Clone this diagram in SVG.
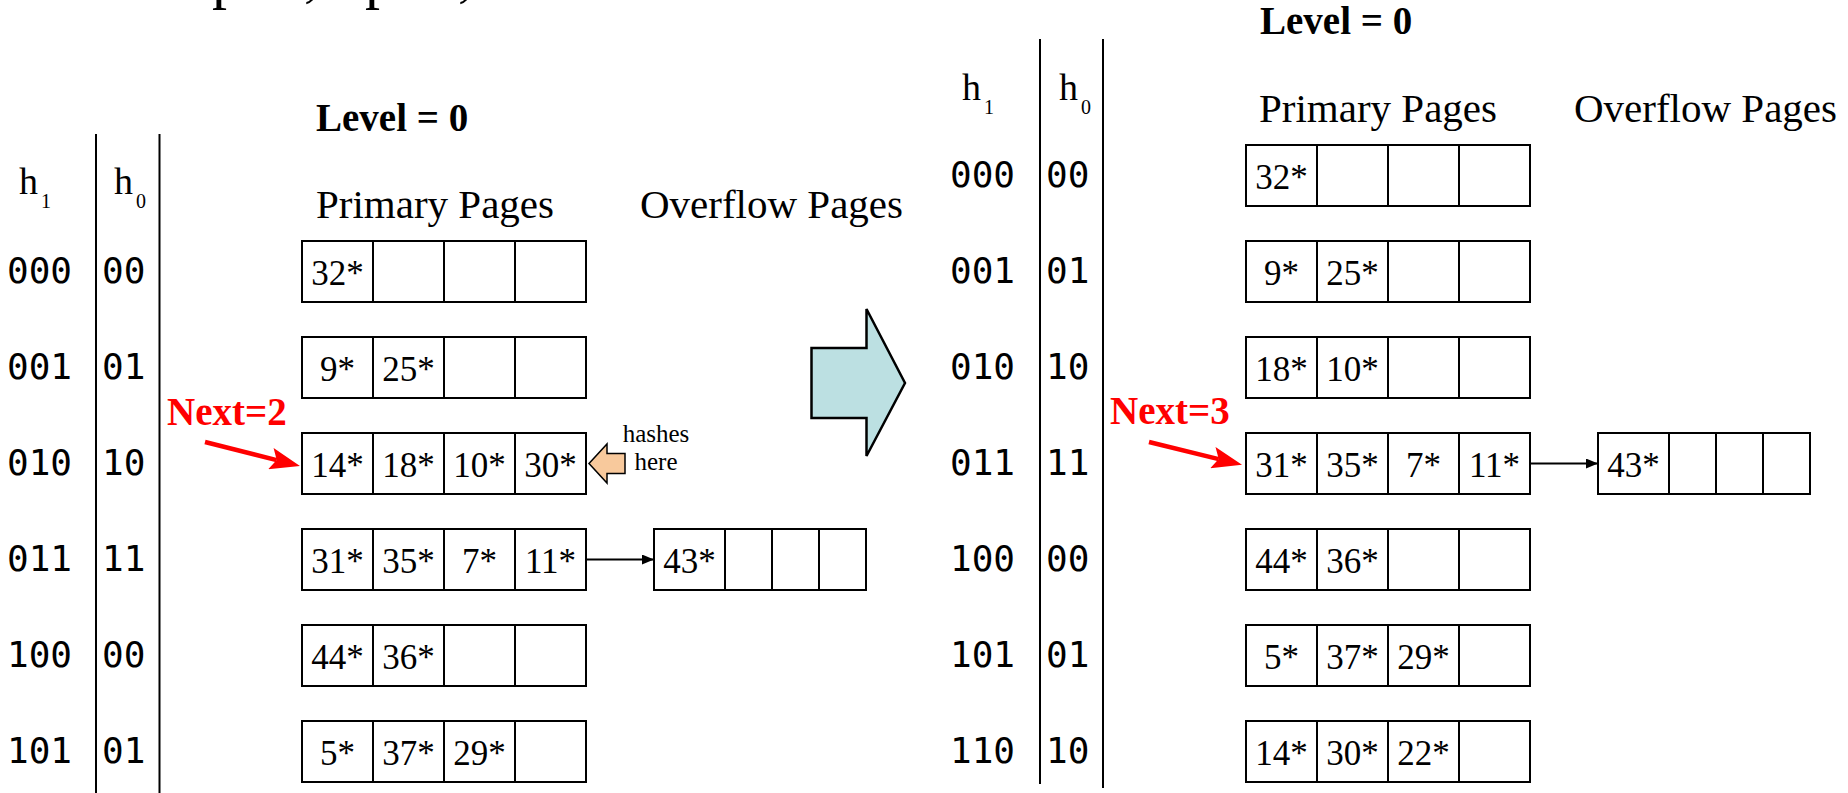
<svg xmlns="http://www.w3.org/2000/svg" width="1848" height="793" viewBox="0 0 1848 793">
<style>
.cell{fill:#fff;stroke:#000;stroke-width:2}
.val{font-family:"Liberation Serif",serif;font-size:35px;text-anchor:middle;fill:#000}
.bin{font-family:"DejaVu Sans Mono",monospace;font-size:36px;fill:#000}
.lbl{font-family:"Liberation Serif",serif;font-size:41px;fill:#000}
.lvl{font-family:"Liberation Serif",serif;font-size:39px;font-weight:bold;fill:#000}
.next{font-family:"Liberation Serif",serif;font-size:39px;font-weight:bold;fill:#ff0000}
.h{font-family:"Liberation Serif",serif;font-size:38px;fill:#000}
.sub{font-family:"Liberation Serif",serif;font-size:20px;fill:#000}
.small{font-family:"Liberation Serif",serif;font-size:25px;text-anchor:middle;fill:#000}
.vline{stroke:#000;stroke-width:2;fill:none}
.conn{stroke:#000;stroke-width:2;fill:none}
.redconn{stroke:#ff0000;stroke-width:4.5;fill:none}
</style>
<defs>
<marker id="blackHead" viewBox="0 0 12 10" markerWidth="12" markerHeight="10" refX="11" refY="5" orient="auto" markerUnits="userSpaceOnUse"><path d="M0,0 L12,5 L0,10 z" fill="#000"/></marker>
<marker id="redHead" viewBox="0 0 30 22" markerWidth="30" markerHeight="22" refX="6" refY="11" orient="auto" markerUnits="userSpaceOnUse"><path d="M0,0 L30,11 L0,22 L6,11 z" fill="#ff0000"/></marker>
</defs>

<g id="title-fragment">
<text class="lbl" style="font-size:60px" x="212" y="-3">p</text>
<text class="lbl" style="font-size:60px" x="304" y="-5">,</text>
<text class="lbl" style="font-size:60px" x="365" y="-3">p</text>
<text class="lbl" style="font-size:60px" x="458" y="-5">,</text>
</g>

<!-- LEFT PANEL -->
<g id="left-headers">
<text class="lvl" x="316" y="131">Level = 0</text>
<text class="lbl" x="316" y="218">Primary Pages</text>
<text class="lbl" x="640" y="218">Overflow Pages</text>
<text class="h" x="19" y="194">h</text><text class="sub" x="41" y="208">1</text>
<text class="h" x="114" y="194">h</text><text class="sub" x="136" y="208">0</text>
</g>
<g id="left-columns">
<line class="vline" x1="96" y1="134" x2="96" y2="793"/>
<line class="vline" x1="159.5" y1="134" x2="159.5" y2="793"/>
</g>
<g id="left-hash-labels">
<text class="bin" x="7" y="283">000</text><text class="bin" x="102" y="283">00</text>
<text class="bin" x="7" y="379">001</text><text class="bin" x="102" y="379">01</text>
<text class="bin" x="7" y="475">010</text><text class="bin" x="102" y="475">10</text>
<text class="bin" x="7" y="571">011</text><text class="bin" x="102" y="571">11</text>
<text class="bin" x="7" y="667">100</text><text class="bin" x="102" y="667">00</text>
<text class="bin" x="7" y="763">101</text><text class="bin" x="102" y="763">01</text>
</g>
<g id="left-bucket-0">
<rect class="cell" x="302" y="241" width="71" height="61"/><rect class="cell" x="373" y="241" width="71" height="61"/><rect class="cell" x="444" y="241" width="71" height="61"/><rect class="cell" x="515" y="241" width="71" height="61"/>
<text class="val" x="337.5" y="285">32*</text>
</g>
<g id="left-bucket-1">
<rect class="cell" x="302" y="337" width="71" height="61"/><rect class="cell" x="373" y="337" width="71" height="61"/><rect class="cell" x="444" y="337" width="71" height="61"/><rect class="cell" x="515" y="337" width="71" height="61"/>
<text class="val" x="337.5" y="381">9*</text><text class="val" x="408.5" y="381">25*</text>
</g>
<g id="left-bucket-2">
<rect class="cell" x="302" y="433" width="71" height="61"/><rect class="cell" x="373" y="433" width="71" height="61"/><rect class="cell" x="444" y="433" width="71" height="61"/><rect class="cell" x="515" y="433" width="71" height="61"/>
<text class="val" x="337.5" y="477">14*</text><text class="val" x="408.5" y="477">18*</text><text class="val" x="479.5" y="477">10*</text><text class="val" x="550.5" y="477">30*</text>
</g>
<g id="left-bucket-3">
<rect class="cell" x="302" y="529" width="71" height="61"/><rect class="cell" x="373" y="529" width="71" height="61"/><rect class="cell" x="444" y="529" width="71" height="61"/><rect class="cell" x="515" y="529" width="71" height="61"/>
<text class="val" x="337.5" y="573">31*</text><text class="val" x="408.5" y="573">35*</text><text class="val" x="479.5" y="573">7*</text><text class="val" x="550.5" y="573">11*</text>
</g>
<g id="left-overflow-3">
<rect class="cell" x="654" y="529" width="71" height="61"/><rect class="cell" x="725" y="529" width="47" height="61"/><rect class="cell" x="772" y="529" width="47" height="61"/><rect class="cell" x="819" y="529" width="47" height="61"/>
<text class="val" x="689.5" y="573">43*</text>
</g>
<g id="left-bucket-4">
<rect class="cell" x="302" y="625" width="71" height="61"/><rect class="cell" x="373" y="625" width="71" height="61"/><rect class="cell" x="444" y="625" width="71" height="61"/><rect class="cell" x="515" y="625" width="71" height="61"/>
<text class="val" x="337.5" y="669">44*</text><text class="val" x="408.5" y="669">36*</text>
</g>
<g id="left-bucket-5">
<rect class="cell" x="302" y="721" width="71" height="61"/><rect class="cell" x="373" y="721" width="71" height="61"/><rect class="cell" x="444" y="721" width="71" height="61"/><rect class="cell" x="515" y="721" width="71" height="61"/>
<text class="val" x="337.5" y="765">5*</text><text class="val" x="408.5" y="765">37*</text><text class="val" x="479.5" y="765">29*</text>
</g>
<g id="left-next">
<text class="next" x="167" y="425">Next=2</text>
</g>
<g id="hashes-here">
<polygon points="589,463.5 607,444 607,453.5 625,453.5 625,473.5 607,473.5 607,483" fill="#f8c99c" stroke="#000" stroke-width="1.5"/>
<text class="small" x="656" y="442">hashes</text>
<text class="small" x="656" y="470">here</text>
</g>

<g id="transition-arrow">
<polygon points="811.5,348 866.5,348 866.5,309 905,383 866.5,456 866.5,418 811.5,418" fill="#bce0e2" stroke="#000" stroke-width="2.5" stroke-linejoin="miter"/>
</g>

<!-- RIGHT PANEL -->
<g id="right-headers">
<text class="lvl" x="1260" y="34">Level = 0</text>
<text class="lbl" x="1259" y="122">Primary Pages</text>
<text class="lbl" x="1574" y="122">Overflow Pages</text>
<text class="h" x="962" y="100">h</text><text class="sub" x="984" y="114">1</text>
<text class="h" x="1059" y="100">h</text><text class="sub" x="1081" y="114">0</text>
</g>
<g id="right-columns">
<line class="vline" x1="1040" y1="39" x2="1040" y2="784"/>
<line class="vline" x1="1103" y1="39" x2="1103" y2="788"/>
</g>
<g id="right-hash-labels">
<text class="bin" x="950" y="187">000</text><text class="bin" x="1046" y="187">00</text>
<text class="bin" x="950" y="283">001</text><text class="bin" x="1046" y="283">01</text>
<text class="bin" x="950" y="379">010</text><text class="bin" x="1046" y="379">10</text>
<text class="bin" x="950" y="475">011</text><text class="bin" x="1046" y="475">11</text>
<text class="bin" x="950" y="571">100</text><text class="bin" x="1046" y="571">00</text>
<text class="bin" x="950" y="667">101</text><text class="bin" x="1046" y="667">01</text>
<text class="bin" x="950" y="763">110</text><text class="bin" x="1046" y="763">10</text>
</g>
<g id="right-bucket-0">
<rect class="cell" x="1246" y="145" width="71" height="61"/><rect class="cell" x="1317" y="145" width="71" height="61"/><rect class="cell" x="1388" y="145" width="71" height="61"/><rect class="cell" x="1459" y="145" width="71" height="61"/>
<text class="val" x="1281.5" y="189">32*</text>
</g>
<g id="right-bucket-1">
<rect class="cell" x="1246" y="241" width="71" height="61"/><rect class="cell" x="1317" y="241" width="71" height="61"/><rect class="cell" x="1388" y="241" width="71" height="61"/><rect class="cell" x="1459" y="241" width="71" height="61"/>
<text class="val" x="1281.5" y="285">9*</text><text class="val" x="1352.5" y="285">25*</text>
</g>
<g id="right-bucket-2">
<rect class="cell" x="1246" y="337" width="71" height="61"/><rect class="cell" x="1317" y="337" width="71" height="61"/><rect class="cell" x="1388" y="337" width="71" height="61"/><rect class="cell" x="1459" y="337" width="71" height="61"/>
<text class="val" x="1281.5" y="381">18*</text><text class="val" x="1352.5" y="381">10*</text>
</g>
<g id="right-bucket-3">
<rect class="cell" x="1246" y="433" width="71" height="61"/><rect class="cell" x="1317" y="433" width="71" height="61"/><rect class="cell" x="1388" y="433" width="71" height="61"/><rect class="cell" x="1459" y="433" width="71" height="61"/>
<text class="val" x="1281.5" y="477">31*</text><text class="val" x="1352.5" y="477">35*</text><text class="val" x="1423.5" y="477">7*</text><text class="val" x="1494.5" y="477">11*</text>
</g>
<g id="right-overflow-3">
<rect class="cell" x="1598" y="433" width="71" height="61"/><rect class="cell" x="1669" y="433" width="47" height="61"/><rect class="cell" x="1716" y="433" width="47" height="61"/><rect class="cell" x="1763" y="433" width="47" height="61"/>
<text class="val" x="1633.5" y="477">43*</text>
</g>
<g id="right-bucket-4">
<rect class="cell" x="1246" y="529" width="71" height="61"/><rect class="cell" x="1317" y="529" width="71" height="61"/><rect class="cell" x="1388" y="529" width="71" height="61"/><rect class="cell" x="1459" y="529" width="71" height="61"/>
<text class="val" x="1281.5" y="573">44*</text><text class="val" x="1352.5" y="573">36*</text>
</g>
<g id="right-bucket-5">
<rect class="cell" x="1246" y="625" width="71" height="61"/><rect class="cell" x="1317" y="625" width="71" height="61"/><rect class="cell" x="1388" y="625" width="71" height="61"/><rect class="cell" x="1459" y="625" width="71" height="61"/>
<text class="val" x="1281.5" y="669">5*</text><text class="val" x="1352.5" y="669">37*</text><text class="val" x="1423.5" y="669">29*</text>
</g>
<g id="right-bucket-6">
<rect class="cell" x="1246" y="721" width="71" height="61"/><rect class="cell" x="1317" y="721" width="71" height="61"/><rect class="cell" x="1388" y="721" width="71" height="61"/><rect class="cell" x="1459" y="721" width="71" height="61"/>
<text class="val" x="1281.5" y="765">14*</text><text class="val" x="1352.5" y="765">30*</text><text class="val" x="1423.5" y="765">22*</text>
</g>
<g id="right-next">
<text class="next" x="1110" y="424">Next=3</text>
</g>

<g id="connectors">
<line class="conn" x1="586" y1="559.5" x2="653" y2="559.5" marker-end="url(#blackHead)"/>
<line class="conn" x1="1530" y1="463.5" x2="1597" y2="463.5" marker-end="url(#blackHead)"/>
<line class="redconn" x1="205" y1="442" x2="276.7" y2="460.1" marker-end="url(#redHead)"/>
<line class="redconn" x1="1149" y1="442" x2="1218.7" y2="459.1" marker-end="url(#redHead)"/>
</g>
</svg>
